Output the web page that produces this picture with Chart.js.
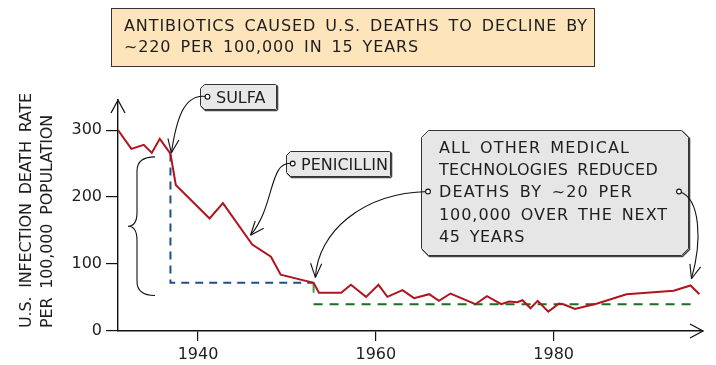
<!DOCTYPE html>
<html>
<head>
<meta charset="utf-8">
<script src="https://cdn.jsdelivr.net/npm/chart.js@4"></script>
<style>
  body { margin: 0; background: #fff; }
  canvas { display: block; }
</style>
</head>
<body>
<canvas id="chart" width="716" height="365"></canvas>
<script>
// Death rate per 100,000
const years = [1931, 1932.5, 1933.9, 1934.8, 1935.7, 1936.9, 1937.5, 1941.3, 1942.8, 1946.1, 1948.2, 1949.3,
  1953, 1953.6, 1956.1, 1957.2, 1958.9, 1960.3, 1961.3, 1963, 1964.3, 1966, 1967.1, 1968.4, 1971.2, 1972.5,
  1974.1, 1975, 1975.9, 1976.5, 1977.4, 1978.2, 1979.4, 1980.6, 1981.1, 1982.4, 1984.9, 1988.2, 1993.5, 1995.4, 1996.4];
const rates = [300, 272, 278, 266, 287, 265, 218, 168, 191, 129, 111, 84,
  72, 57, 57, 69, 51, 69, 51, 61, 49, 55, 45, 56, 40, 52,
  40, 44, 43, 46, 34, 45, 29, 41, 40, 33, 41, 55, 60, 68, 55];

// guide lines: sulfa drop and the 1953 -> 1996 level
const sulfaYears = [1936.9, 1936.9, 1953];
const sulfaLevels = [265, 72, 72];
const laterYears = [1953, 1996];
const laterLevels = [40, 40];
const stepYears = [1953, 1953];
const stepLevels = [72, 57];

const xTicks = [1940, 1960, 1980];
const yTicks = [0, 100, 200, 300];

const titleLines = ['ANTIBIOTICS CAUSED U.S. DEATHS TO DECLINE BY', '~220 PER 100,000 IN 15 YEARS'];
const noteLines = ['ALL OTHER MEDICAL', 'TECHNOLOGIES REDUCED', 'DEATHS BY ~20 PER', '100,000 OVER THE NEXT', '45 YEARS'];
const yTitle = ['U.S. INFECTION DEATH RATE', 'PER 100,000 POPULATION'];

const FONT = '"DejaVu Sans", sans-serif';
const INK = '#1e1e1e';

function pts(xs, ys) {
  return xs.map((x, i) => ({x: x, y: ys[i]}));
}

// draw words so the line covers the given width: loosen letters a bit, then spread the words
function fitText(ctx, text, x, y, width) {
  const words = text.split(' ');
  const chars = words.join('').length;
  ctx.letterSpacing = '0px';
  const natural = words.reduce((s, w) => s + ctx.measureText(w).width, 0);
  let ls = (width - natural - (words.length - 1) * 9) / chars;
  ls = Math.max(-0.4, Math.min(1.2, ls));
  ctx.letterSpacing = ls.toFixed(2) + 'px';
  const total = words.reduce((s, w) => s + ctx.measureText(w).width, 0);
  const gap = words.length > 1 ? (width - total) / (words.length - 1) : 0;
  let cx = x;
  words.forEach(w => {
    ctx.fillText(w, cx, y);
    cx += ctx.measureText(w).width + gap;
  });
  ctx.letterSpacing = '0px';
}

function chamferBox(ctx, l, t, r, b, cl, cr, fill) {
  const path = () => {
    ctx.beginPath();
    ctx.moveTo(l + cl, t);
    ctx.lineTo(r - cr, t);
    ctx.lineTo(r, t + cr);
    ctx.lineTo(r, b - cr);
    ctx.lineTo(r - cr, b);
    ctx.lineTo(l + cl, b);
    ctx.lineTo(l, b - cl);
    ctx.lineTo(l, t + cl);
    ctx.closePath();
  };
  ctx.save();
  ctx.translate(1, 1);
  path();
  ctx.strokeStyle = '#444';
  ctx.lineWidth = 1.6;
  ctx.stroke();
  ctx.restore();
  path();
  ctx.fillStyle = fill;
  ctx.fill();
  ctx.strokeStyle = '#333';
  ctx.lineWidth = 1;
  ctx.stroke();
}

function curvedArrow(ctx, p0, c1, c2, p1) {
  ctx.beginPath();
  ctx.moveTo(p0[0], p0[1]);
  ctx.bezierCurveTo(c1[0], c1[1], c2[0], c2[1], p1[0], p1[1]);
  ctx.strokeStyle = '#111';
  ctx.lineWidth = 1.1;
  ctx.stroke();
  const a = Math.atan2(p1[1] - c2[1], p1[0] - c2[0]);
  ctx.beginPath();
  [-0.38, 0.38].forEach(d => {
    ctx.moveTo(p1[0], p1[1]);
    ctx.lineTo(p1[0] - 15 * Math.cos(a + d), p1[1] - 15 * Math.sin(a + d));
  });
  ctx.stroke();
  ctx.beginPath();
  ctx.arc(p0[0], p0[1], 2.4, 0, Math.PI * 2);
  ctx.fillStyle = '#fff';
  ctx.fill();
  ctx.stroke();
}

const sketch = {
  id: 'sketch',
  beforeDraw(chart) {
    const ctx = chart.ctx;
    ctx.save();
    ctx.fillStyle = '#fff';
    ctx.fillRect(0, 0, chart.width, chart.height);
    ctx.restore();
  },
  afterDraw(chart) {
    const ctx = chart.ctx;
    const xs = chart.scales.x, ys = chart.scales.y;
    const area = chart.chartArea;
    ctx.save();

    // axis arrows
    ctx.strokeStyle = '#111';
    ctx.lineWidth = 1.3;
    ctx.beginPath();
    ctx.moveTo(area.left - 7, area.top + 13);
    ctx.lineTo(area.left, area.top);
    ctx.lineTo(area.left + 7, area.top + 13);
    ctx.moveTo(area.right - 13, area.bottom - 7);
    ctx.lineTo(area.right, area.bottom);
    ctx.lineTo(area.right - 13, area.bottom + 7);
    ctx.stroke();

    // y axis title
    ctx.font = '16px ' + FONT;
    ctx.fillStyle = INK;
    ctx.textBaseline = 'middle';
    ctx.save();
    ctx.translate(27, 328);
    ctx.rotate(-Math.PI / 2);
    fitText(ctx, yTitle[0], 0, 0, 235);
    ctx.translate(0, 21);
    fitText(ctx, yTitle[1], 0, 0, 213);
    ctx.restore();

    // title box
    ctx.textBaseline = 'alphabetic';
    ctx.fillStyle = '#fde4bb';
    ctx.fillRect(111, 8, 483, 58);
    ctx.strokeStyle = '#333';
    ctx.lineWidth = 1;
    ctx.strokeRect(111.5, 8.5, 483, 58);
    ctx.fillStyle = INK;
    fitText(ctx, titleLines[0], 124, 31, 464);
    fitText(ctx, titleLines[1], 124, 52, 295);

    // brace
    const bt = ys.getPixelForValue(260), bb = ys.getPixelForValue(53);
    const bm = (bt + bb) / 2;
    ctx.beginPath();
    ctx.moveTo(155, bt);
    ctx.quadraticCurveTo(137, bt, 137, bt + 14);
    ctx.lineTo(137, bm - 14);
    ctx.quadraticCurveTo(137, bm, 128, bm);
    ctx.quadraticCurveTo(137, bm, 137, bm + 14);
    ctx.lineTo(137, bb - 14);
    ctx.quadraticCurveTo(137, bb, 155, bb);
    ctx.strokeStyle = '#111';
    ctx.lineWidth = 1.1;
    ctx.stroke();

    // sulfa tag
    chamferBox(ctx, 200.5, 84.5, 276.5, 109.5, 4, 1, '#e8e8e8');
    ctx.fillStyle = INK;
    ctx.font = '16px ' + FONT;
    ctx.fillText('SULFA', 216, 103);
    curvedArrow(ctx, [207.5, 96.7], [183, 92], [176, 122],
      [xs.getPixelForValue(1937), ys.getPixelForValue(266)]);

    // penicillin tag
    chamferBox(ctx, 286.5, 151.5, 390.5, 176.5, 4, 1, '#e8e8e8');
    ctx.fillStyle = INK;
    ctx.fillText('PENICILLIN', 301, 170);
    curvedArrow(ctx, [292.7, 163.5], [268, 160], [276, 205],
      [xs.getPixelForValue(1945.9), ys.getPixelForValue(143)]);

    // other technologies box
    chamferBox(ctx, 421.5, 130.5, 688.5, 255.5, 7, 7, '#e6e6e6');
    ctx.fillStyle = INK;
    const noteW = [191, 219, 194, 229, 86];
    noteLines.forEach((line, i) => {
      fitText(ctx, line, 439, 153 + i * 22.2, noteW[i]);
    });
    curvedArrow(ctx, [428, 191.5], [362, 193], [318, 232],
      [xs.getPixelForValue(1953.2), ys.getPixelForValue(80)]);
    curvedArrow(ctx, [679, 191.5], [701, 198], [702, 242],
      [xs.getPixelForValue(1995.5), ys.getPixelForValue(78)]);

    ctx.restore();
  }
};

new Chart(document.getElementById('chart'), {
  type: 'line',
  data: {
    datasets: [
      {data: pts(years, rates), borderColor: '#b0141f', borderWidth: 2, pointRadius: 0, tension: 0},
      {data: pts(stepYears, stepLevels), borderColor: '#3aa83a', borderWidth: 2, pointRadius: 0},
      {data: pts(sulfaYears, sulfaLevels), borderColor: '#1f4f8c', borderWidth: 2, borderDash: [8, 6], pointRadius: 0},
      {data: pts(laterYears, laterLevels), borderColor: '#16701c', borderWidth: 2, borderDash: [9, 7], pointRadius: 0}
    ]
  },
  options: {
    responsive: false,
    animation: false,
    layout: {padding: {top: 100, right: 13, left: 0, bottom: 0}},
    plugins: {legend: {display: false}, tooltip: {enabled: false}},
    scales: {
      x: {
        type: 'linear',
        min: 1931,
        max: 1996.8,
        afterBuildTicks: s => { s.ticks = xTicks.map(v => ({value: v})); },
        afterFit: s => { s.height = 34; },
        grid: {drawOnChartArea: false, tickLength: 10, color: '#111', lineWidth: 1.2},
        border: {color: '#111', width: 1.4},
        ticks: {font: {family: FONT, size: 16}, color: INK, padding: 4, maxRotation: 0, autoSkip: false,
          callback: v => String(v)}
      },
      y: {
        min: 0,
        max: 345,
        afterBuildTicks: s => { s.ticks = yTicks.map(v => ({value: v})); },
        afterFit: s => { s.width = 118; },
        grid: {drawOnChartArea: false, tickLength: 12, color: '#111', lineWidth: 1.2},
        border: {color: '#111', width: 1.4},
        ticks: {font: {family: FONT, size: 16}, color: INK, padding: 4}
      }
    }
  },
  plugins: [sketch]
});
</script>
</body>
</html>
